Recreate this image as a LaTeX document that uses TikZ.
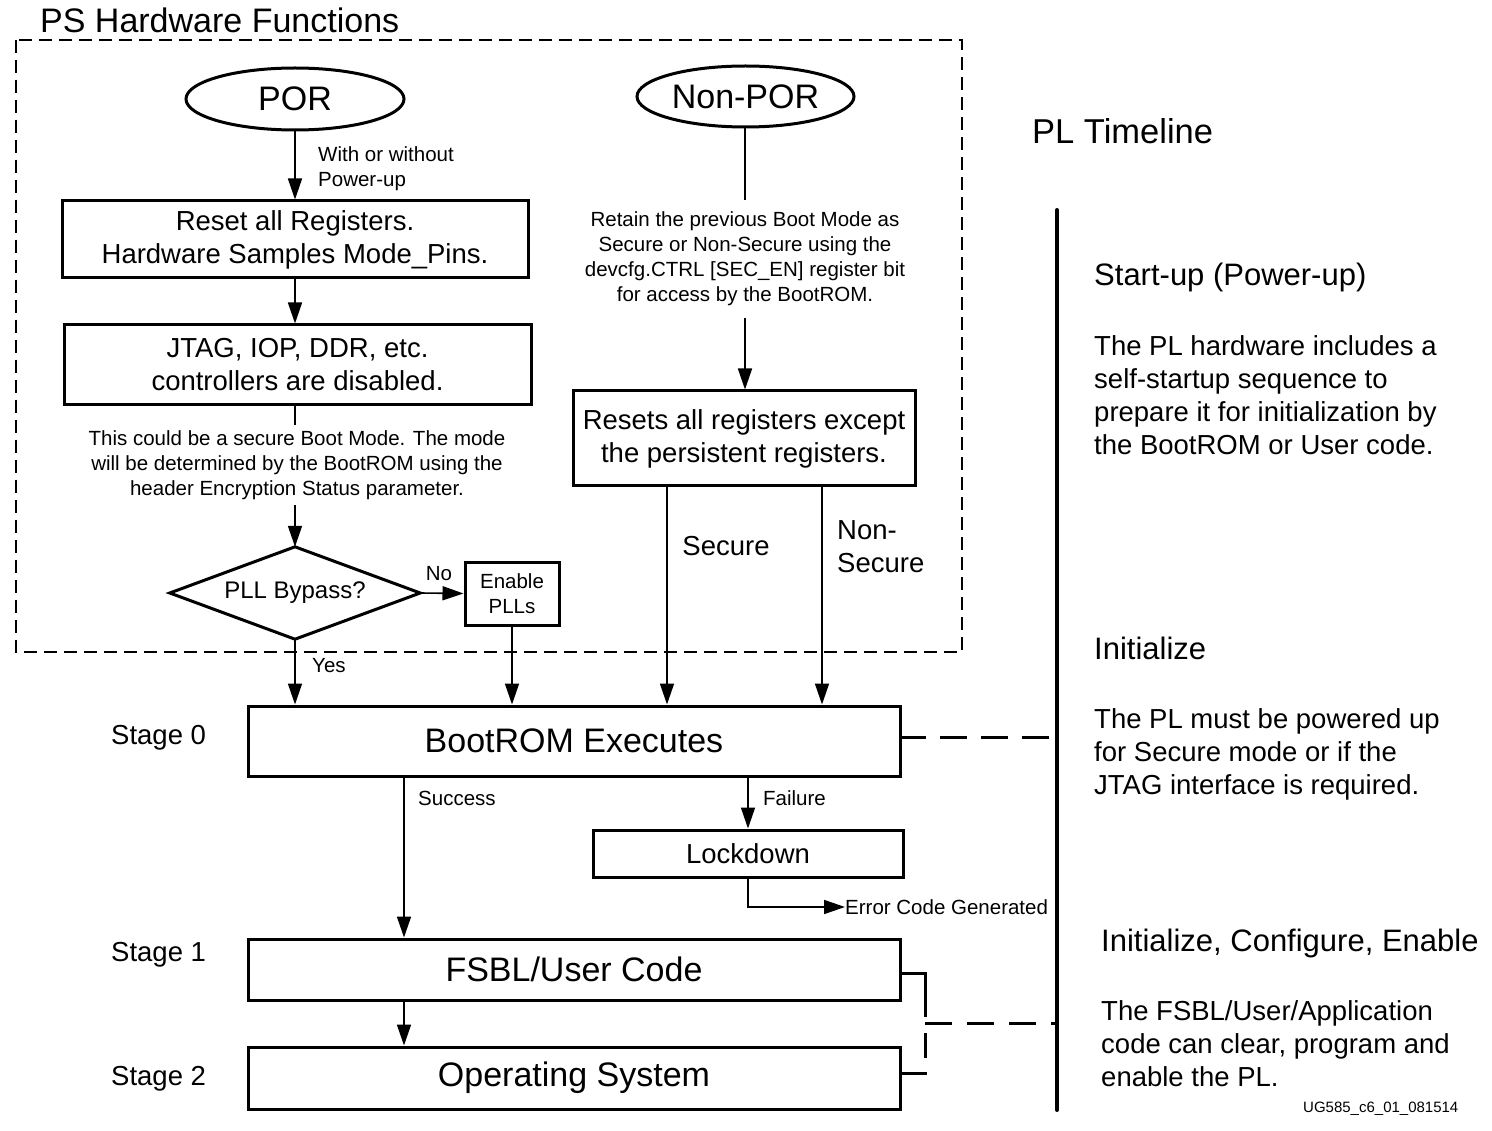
\documentclass[tikz,border=0pt]{standalone}
\usepackage{fontspec}
\setmainfont{Liberation Sans}
\usetikzlibrary{arrows.meta,shapes.geometric}
\begin{document}
\begin{tikzpicture}[x=1pt,y=-1pt,
  box/.style={draw,line width=3pt,rectangle,inner sep=0pt,align=center},
  oval/.style={draw,line width=3pt,ellipse,inner sep=0pt},
  arr/.style={line width=1.6pt,-{Triangle[length=21pt,width=14pt]}},
  ln/.style={line width=1.6pt},
  fbig/.style={font=\fontsize{34}{40}\selectfont},
  fmid/.style={font=\fontsize{27.5}{33}\selectfont},
  fhead/.style={font=\fontsize{31}{37}\selectfont},
  fsmall/.style={font=\fontsize{20.5}{25}\selectfont},
  txt/.style={inner sep=0pt,align=center},
  ltxt/.style={inner sep=0pt,align=left,anchor=west},
]
\useasboundingbox (0,0) rectangle (1492,1131);

% PS Hardware Functions frame
\node[txt,fbig,anchor=base west] (pstitle) at (40,33) {PS Hardware Functions};
\draw[line width=1.6pt,dash pattern=on 13pt off 7pt] (16,40) rectangle (962,652);

% left column
\node[oval,fbig,minimum width=218pt,minimum height=62pt] (por) at (295,99) {POR};
\node[box,fmid,minimum width=466pt,minimum height=77pt] (reset) at (295,239.5) {Reset all Registers.\\Hardware Samples Mode\_Pins.};
\node[box,fmid,minimum width=467pt,minimum height=80pt] (jtag) at (297.5,365) {JTAG, IOP, DDR, etc.\\controllers are disabled.};
\node[txt,fsmall] (note1) at (297,465) {This could be a secure Boot Mode. The mode\\will be determined by the BootROM using the\\header Encryption Status parameter.};
\node[inner sep=0pt,minimum width=250pt,minimum height=92pt,font=\fontsize{24}{28}\selectfont] (pll) at (295,593) {PLL Bypass?};
\draw[line width=3pt,line join=miter] (pll.north) -- (pll.east) -- (pll.south) -- (pll.west) -- cycle;
\node[box,fsmall,minimum width=94pt,minimum height=63pt] (epll) at (512,593.5) {Enable\\PLLs};

\draw[arr] (por) -- (reset);
\node[ltxt,fsmall] (wlab) at (318,168.5) {With or without\\Power-up};
\draw[arr] (reset.south) -- (reset.south |- jtag.north);
\coordinate (n1a) at (295,425);
\coordinate (n1b) at (295,505);
\draw[ln] (jtag.south -| n1a) -- (n1a);
\draw[arr] (n1b) -- (pll.north);
\draw[arr] (pll.east) -- (epll.west);
\node[txt,fsmall] (nolab) at (439,574) {No};

% right column
\node[oval,fbig,minimum width=217pt,minimum height=61pt] (npor) at (745.5,96.5) {Non-POR};
\node[txt,fsmall] (note2) at (745,259) {Retain the previous Boot Mode as\\Secure or Non-Secure using the\\devcfg.CTRL [SEC\_EN] register bit\\for access by the BootROM.};
\node[box,fmid,minimum width=342pt,minimum height=95pt] (rsts) at (744,438.5) {Resets all registers except\\the persistent registers.};
\coordinate (n2a) at (745,200);
\coordinate (n2b) at (745,318);
\draw[ln] (npor.south -| n2a) -- (n2a);
\draw[arr] (n2b) -- (rsts.north -| n2b);

% Stage boxes
\node[box,fbig,minimum width=652pt,minimum height=70pt] (boot) at (574,741) {BootROM Executes};
\node[box,fmid,minimum width=310pt,minimum height=47pt] (lock) at (748,853.5) {Lockdown};
\node[box,fbig,minimum width=652pt,minimum height=61pt] (fsbl) at (574,969.5) {FSBL/User Code};
\node[box,fbig,minimum width=652pt,minimum height=62pt] (os) at (574,1078) {Operating System};

\node[txt,fmid,anchor=west] (st0) at (111,738) {Stage 0};
\node[txt,fmid,anchor=west] (st1) at (111,955) {Stage 1};
\node[txt,fmid,anchor=west] (st2) at (111,1079) {Stage 2};

% arrows into BootROM
\draw[arr] (pll.south) -- (boot.north -| pll.south);
\node[ltxt,fsmall] (yeslab) at (312,666) {Yes};
\draw[arr] (epll.south) -- (boot.north -| epll.south);
\coordinate (sx) at (667,0);
\coordinate (nsx) at (822,0);
\draw[arr] (rsts.south -| sx) -- (boot.north -| sx);
\draw[arr] (rsts.south -| nsx) -- (boot.north -| nsx);
\node[txt,fmid] (seclab) at (726,546) {Secure};
\node[ltxt,fmid] (nseclab) at (837,546.5) {Non-\\Secure};

% BootROM outputs
\coordinate (sux) at (404,0);
\draw[arr] (boot.south -| sux) -- (fsbl.north -| sux);
\node[ltxt,fsmall] (suclab) at (418,798) {Success};
\draw[arr] (boot.south -| lock.north) -- (lock.north);
\node[ltxt,fsmall] (faillab) at (763,798) {Failure};
\coordinate (errc) at (748,907);
\node[ltxt,fsmall] (errlab) at (845,907) {Error Code Generated};
\draw[arr] (lock.south) -- (errc) -- (errlab.west);
\draw[arr] (fsbl.south -| sux) -- (os.north -| sux);

% PL timeline
\coordinate (tltop) at (1057,210);
\coordinate (tlbot) at (1057,1110);
\draw[line width=4pt,line cap=round] (tltop) -- (tlbot);
\coordinate (bootr) at (900,737);
\coordinate (tl1) at (1057,737);
\draw[line width=3pt,dash pattern=on 27pt off 14pt] (bootr) ++(-1,0) -- (tl1);
\coordinate (bra) at (900,973);
\coordinate (brb) at (925,973);
\coordinate (brc) at (925,1073);
\coordinate (brd) at (900,1073);
\draw[line width=3pt,dash pattern=on 69pt off 16pt on 25pt off 14pt on 40pt] (bra) -- (brb) -- (brc) -- (brd);
\coordinate (brm) at (925,1023);
\coordinate (tl2) at (1057,1023);
\draw[line width=3pt,dash pattern=on 27pt off 15pt] (brm) -- (tl2);

\node[ltxt,font=\fontsize{34.5}{40}\selectfont] (pltitle) at (1032,131) {PL Timeline};
\node[ltxt,fhead] (h1) at (1094,277) {Start-up (Power-up)};
\node[ltxt,fmid] (p1) at (1094,395) {The PL hardware includes a\\self-startup sequence to\\prepare it for initialization by\\the BootROM or User code.};
\node[ltxt,fhead] (h2) at (1094,648) {Initialize};
\node[ltxt,fmid] (p2) at (1094,754) {The PL must be powered up\\for Secure mode or if the\\JTAG interface is required.};
\node[ltxt,fhead] (h3) at (1101,943) {Initialize, Configure, Enable};
\node[ltxt,fmid] (p3) at (1101,1044) {The FSBL/User/Application\\code can clear, program and\\enable the PL.};
\node[ltxt,font=\fontsize{15}{18}\selectfont] (ug) at (1303,1109) {UG585\_c6\_01\_081514};
\end{tikzpicture}
\end{document}
